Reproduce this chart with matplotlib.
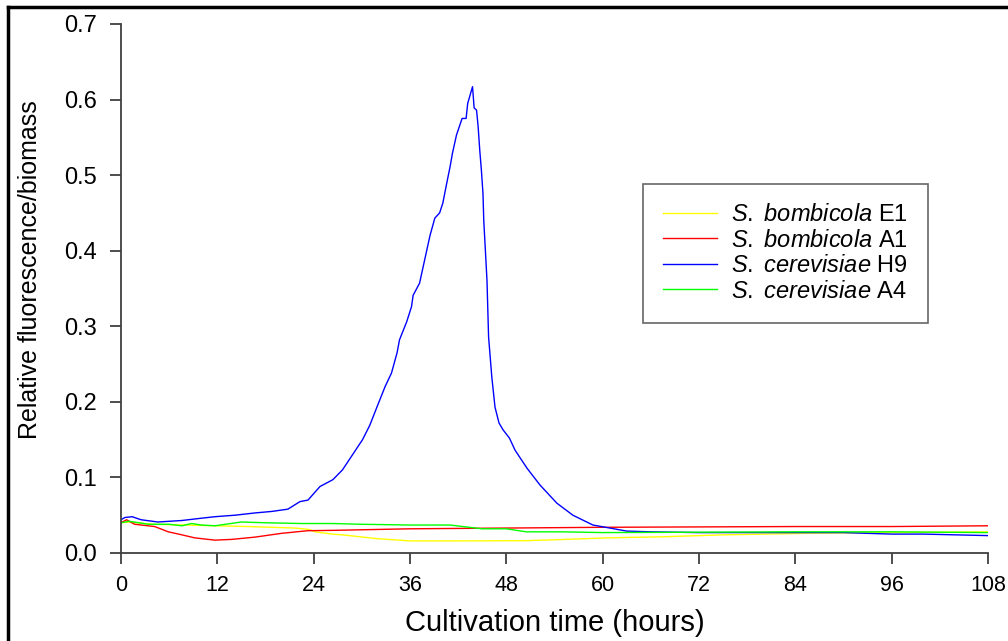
import matplotlib
matplotlib.use("Agg")
import matplotlib.pyplot as plt
from matplotlib.lines import Line2D

plt.rcParams['font.family'] = ['Liberation Sans', 'DejaVu Sans']
plt.rcParams['mathtext.fontset'] = 'custom'
plt.rcParams['mathtext.rm'] = 'Liberation Sans'
plt.rcParams['mathtext.it'] = 'Liberation Sans:italic'

# values (hours, relative fluorescence/biomass)
e1_t = [0, 1, 4, 8, 11.7, 15.8, 21.7, 23.5, 24.2, 26.3, 27.6, 31.9, 36, 42,
        50.5, 55.5, 60.5, 68, 72, 75, 85.4, 96, 108]
e1_y = [0.040, 0.041, 0.038, 0.037, 0.036, 0.035, 0.033, 0.031, 0.028, 0.025,
        0.024, 0.019, 0.016, 0.016, 0.0163, 0.018, 0.020, 0.0216, 0.023, 0.024,
        0.026, 0.027, 0.028]

a1_t = [0, 0.7, 1.7, 4.2, 5.9, 7.6, 9.2, 11.7, 13.8, 16.7, 20, 23.3, 26.6,
        36, 48, 60, 72, 84, 96, 108]
a1_y = [0.040, 0.044, 0.038, 0.035, 0.028, 0.024, 0.020, 0.017, 0.018, 0.021,
        0.026, 0.0295, 0.030, 0.032, 0.033, 0.034, 0.0345, 0.035, 0.035, 0.036]

h9_t = [0, 0.5, 1.4, 2.5, 4.6, 7.6, 10, 11.7, 14.2, 16.7, 18.8, 20.8, 22.3,
        23.3, 24.8, 26.4, 27.6, 29.1, 30.1, 31.0, 32.0, 32.9, 33.7, 34.4, 34.7,
        35.6, 36.2, 36.4, 37.2, 38.5, 39.1, 39.7, 40.1, 40.6, 41.0, 41.3, 41.8,
        42.5, 43.0, 43.2, 43.8, 44.0, 44.3, 44.5, 44.7, 44.9, 45.1, 45.2, 45.6,
        45.8, 46.2, 46.6, 47.1, 47.6, 48.4, 49.1, 50.6, 52.2, 54.3, 56.3, 58.8,
        60.9, 63, 66, 72, 78, 84, 90, 96, 100, 104, 108]
h9_y = [0.044, 0.047, 0.048, 0.044, 0.041, 0.043, 0.046, 0.048, 0.050, 0.053,
        0.055, 0.058, 0.068, 0.070, 0.088, 0.097, 0.110, 0.134, 0.150, 0.169,
        0.196, 0.220, 0.238, 0.265, 0.282, 0.306, 0.326, 0.341, 0.357, 0.420,
        0.443, 0.450, 0.463, 0.490, 0.511, 0.529, 0.553, 0.575, 0.575, 0.595,
        0.617, 0.589, 0.586, 0.564, 0.533, 0.507, 0.476, 0.440, 0.361, 0.286,
        0.233, 0.193, 0.172, 0.163, 0.152, 0.136, 0.112, 0.090, 0.066, 0.050,
        0.037, 0.033, 0.029, 0.028, 0.027, 0.027, 0.027, 0.027, 0.025, 0.025,
        0.024, 0.023]

a4_t = [0, 1, 3.4, 6, 7.6, 8.8, 10, 11.7, 15, 18, 22.5, 26.3, 30, 36, 41, 45,
        48, 50.5, 55, 60, 72, 84, 96, 108]
a4_y = [0.040, 0.042, 0.038, 0.038, 0.036, 0.039, 0.037, 0.036, 0.041, 0.040,
        0.039, 0.039, 0.038, 0.037, 0.037, 0.032, 0.032, 0.028, 0.028, 0.027,
        0.0275, 0.028, 0.028, 0.027]

labels = [r'$\mathit{S.\ bombicola}$ E1', r'$\mathit{S.\ bombicola}$ A1',
          r'$\mathit{S.\ cerevisiae}$ H9', r'$\mathit{S.\ cerevisiae}$ A4']
colors = ['#ffff00', '#ff0000', '#0000ff', '#00ff00']
xticks = [0, 12, 24, 36, 48, 60, 72, 84, 96, 108]
yticks = [0.0, 0.1, 0.2, 0.3, 0.4, 0.5, 0.6, 0.7]

fig = plt.figure(figsize=(10.08, 6.41), dpi=100)
ax = fig.add_axes([0.12, 0.1373, 0.86, 0.8253])

series = [(e1_t, e1_y), (a1_t, a1_y), (h9_t, h9_y), (a4_t, a4_y)]
for (t, y), c, lab in zip(series, colors, labels):
	ax.plot(t, y, color=c, lw=1.0, label=lab)

ax.set_xlim(0, 108)
ax.set_ylim(0, 0.7)
ax.set_xticks(xticks)
ax.set_yticks(yticks)
ax.set_yticklabels(["{:.1f}".format(v) for v in yticks])
for s in ['top', 'right']:
	ax.spines[s].set_visible(False)
for s in ['left', 'bottom']:
	ax.spines[s].set_color('#404040')
	ax.spines[s].set_linewidth(1.3)
ax.tick_params(axis='both', direction='out', length=8, width=1.3, color='#404040')
ax.tick_params(axis='y', pad=9.5, labelsize=17)
ax.tick_params(axis='x', pad=8, labelsize=15.5)

ax.set_xlabel("Cultivation time (hours)", fontsize=21, labelpad=9)
ax.set_ylabel("Relative fluorescence/biomass", fontsize=18)
ax.yaxis.set_label_coords(-0.091, 0.535)

leg = ax.legend(loc='upper left', bbox_to_anchor=(0.602, 0.6975), borderaxespad=0,
                fontsize=17, fancybox=False, handlelength=2.3, handletextpad=0.6,
                labelspacing=0.15, borderpad=0.85)
leg.get_frame().set_edgecolor('#404040')
leg.get_frame().set_linewidth(1.2)

# black frame around the picture (top and left edges)
fig.add_artist(Line2D([0.0079, 1.0], [0.989, 0.989], transform=fig.transFigure, color='black', lw=2.5))
fig.add_artist(Line2D([0.0079, 0.0079], [0.0, 0.989], transform=fig.transFigure, color='black', lw=2.5))

fig.savefig("out.png", dpi=100)
